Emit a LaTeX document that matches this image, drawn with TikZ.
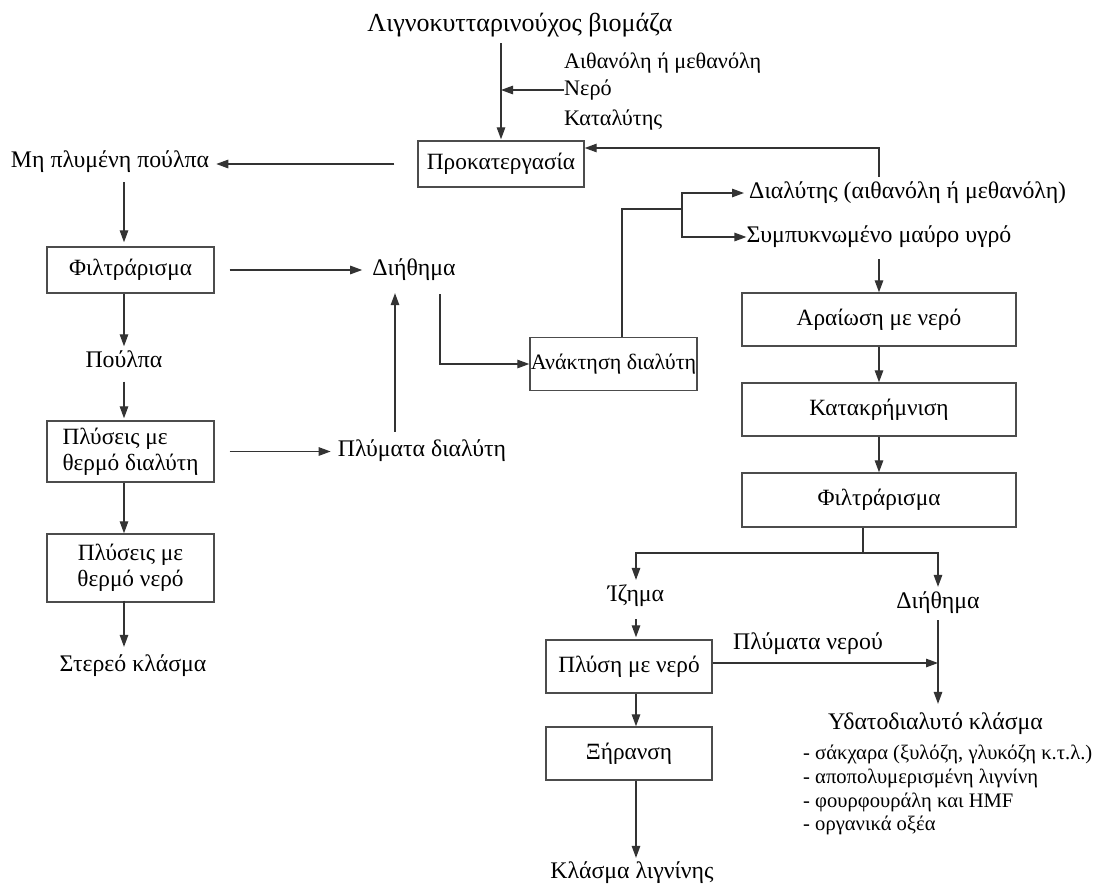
\documentclass[tikz,border=0pt]{standalone}
\usepackage{fontspec}
\setmainfont{Liberation Serif}
\usetikzlibrary{arrows.meta}
\begin{document}
\begin{tikzpicture}[x=1pt,y=-1pt,
  ln/.style={line width=1.3pt, draw=black!80},
  arr/.style={ln, -{Triangle[length=12pt,width=8.5pt]}},
  box/.style={draw=black!70, line width=1.4pt, inner sep=0pt, align=center, font=\fontsize{23.3}{26}\selectfont},
  lbl/.style={inner sep=0pt, font=\fontsize{23.8}{26}\selectfont},
  sml/.style={inner sep=0pt, font=\fontsize{22.2}{25}\selectfont},
]
\useasboundingbox (0,0) rectangle (1099,886);
% columns
\coordinate (colL) at (124,0);
\coordinate (colU) at (395,0);
\coordinate (colD) at (440,0);
\coordinate (colA) at (622,0);
\coordinate (colI) at (636,0);
\coordinate (colS) at (863,0);
\coordinate (fbrow) at (0,148);
\coordinate (fb) at (879,177);
\coordinate (jn) at (682,209);
\coordinate (sp) at (863,553);
\coordinate (wp) at (938,663);

% top
\node[inner sep=0pt, font=\fontsize{26}{30}\selectfont] (title) at (520,25) {Λιγνοκυτταρινούχος βιομάζα};
\node[sml, anchor=west] (aith) at (564,63) {Αιθανόλη ή μεθανόλη};
\node[sml, anchor=west] (nero) at (564,90) {Νερό};
\node[sml, anchor=west] (kat) at (564,120) {Καταλύτης};
\node[box, minimum width=166pt, minimum height=46pt] (pre) at (501,164) {Προκατεργασία};
\node[lbl] (unw) at (110,162) {Μη πλυμένη πούλπα};

% left column
\node[box, minimum width=167pt, minimum height=46pt] (filt1) at (130.5,270) {Φιλτράρισμα};
\node[lbl] (poulpa) at (124,359) {Πούλπα};
\node[box, minimum width=167pt, minimum height=61pt, align=left] (wash1) at (130.5,451.5) {Πλύσεις με\\θερμό διαλύτη};
\node[box, minimum width=167pt, minimum height=68pt] (wash2) at (130.5,568) {Πλύσεις με\\θερμό νερό};
\node[lbl] (stereo) at (133,666) {Στερεό κλάσμα};

% middle
\node[lbl] (dieth1) at (414,270) {Διήθημα};
\node[lbl] (plym) at (422,451) {Πλύματα διαλύτη};
\node[box, minimum width=167pt, minimum height=53pt, font=\fontsize{22}{26}\selectfont] (anakt) at (613.5,364) {Ανάκτηση διαλύτη};

% right column
\node[lbl, anchor=west] (dial) at (749,193) {Διαλύτης (αιθανόλη ή μεθανόλη)};
\node[lbl] (symp) at (879,237) {Συμπυκνωμένο μαύρο υγρό};
\node[box, minimum width=274pt, minimum height=53pt] (arai) at (879,319.5) {Αραίωση με νερό};
\node[box, minimum width=274pt, minimum height=53pt] (katak) at (879,409.5) {Κατακρήμνιση};
\node[box, minimum width=274pt, minimum height=54pt] (filt2) at (879,500) {Φιλτράρισμα};

% bottom
\node[lbl] (izima) at (636,596) {Ίζημα};
\node[lbl] (dieth2) at (938,603) {Διήθημα};
\node[box, minimum width=166pt, minimum height=53pt] (plysi) at (629,666.5) {Πλύση με νερό};
\node[lbl] (plnero) at (808,644) {Πλύματα νερού};
\node[box, minimum width=166pt, minimum height=53pt] (xir) at (629,753.5) {Ξήρανση};
\node[lbl] (klasma) at (632,873) {Κλάσμα λιγνίνης};
\node[lbl] (ydato) at (935.5,724) {Υδατοδιαλυτό κλάσμα};
\node[inner sep=0pt, anchor=north west, align=left, font=\fontsize{20.6}{23.7}\selectfont] (list) at (803,745)
  {- σάκχαρα (ξυλόζη, γλυκόζη κ.τ.λ.)\\- αποπολυμερισμένη λιγνίνη\\- φουρφουράλη και HMF\\- οργανικά οξέα};

% connectors top
\draw[arr, shorten <=6pt, shorten >=1pt] (pre.north |- title.south) -- (pre.north);
\draw[arr] (nero.west) -- (pre.north |- nero.west);
\draw[arr, shorten <=23pt, shorten >=7pt] (pre.west) -- (pre.west -| unw.east);
\draw[arr] (fb) -- (fb |- fbrow) -- (pre.east |- fbrow);

% left column
\draw[arr, shorten <=9pt, shorten >=4pt] (unw.south -| colL) -- (filt1.north -| colL);
\draw[arr, shorten >=4pt] (filt1.south -| colL) -- (poulpa.north -| colL);
\draw[arr, shorten <=14pt, shorten >=2pt] (poulpa.south -| colL) -- (wash1.north -| colL);
\draw[arr] (wash1.south -| colL) -- (wash2.north -| colL);
\draw[arr, shorten <=-2pt, shorten >=8pt] (wash2.south -| colL) -- (stereo.north -| colL);

\draw[arr, shorten <=15pt, shorten >=10pt] (filt1.east) -- (filt1.east -| dieth1.west);
\draw[arr, shorten <=15pt, shorten >=7pt] (wash1.east) -- (wash1.east -| plym.west);
\draw[arr, shorten <=8pt, shorten >=12pt] (plym.north -| colU) -- (dieth1.south -| colU);
\draw[arr, shorten <=13pt] (dieth1.south -| colD) |- (anakt.west);

% recovery branch
\draw[ln] (anakt.north -| colA) |- (jn);
\draw[arr, shorten >=5pt] (jn) |- (dial.west);
\draw[arr] (jn) |- (symp.west);
\draw[arr, shorten <=11pt] (symp.south) -- (arai.north);
\draw[arr] (arai.south) -- (katak.north);
\draw[arr] (katak.south) -- (filt2.north);
\draw[ln] (filt2.south -| colS) -- (sp);
\draw[arr, shorten >=5pt] (sp) -| (izima.north);
\draw[arr, shorten >=5pt] (sp) -| (dieth2.north);

% bottom
\draw[arr, shorten <=12pt, shorten >=2pt] (izima.south -| colI) -- (plysi.north -| colI);
\draw[arr] (plysi.east |- wp) -- (wp);
\draw[arr, shorten <=6pt, shorten >=9pt] (dieth2.south) -- (dieth2.south |- ydato.north);
\draw[arr] (plysi.south -| colI) -- (xir.north -| colI);
\draw[arr, shorten >=4pt] (xir.south -| colI) -- (klasma.north -| colI);
\end{tikzpicture}
\end{document}
